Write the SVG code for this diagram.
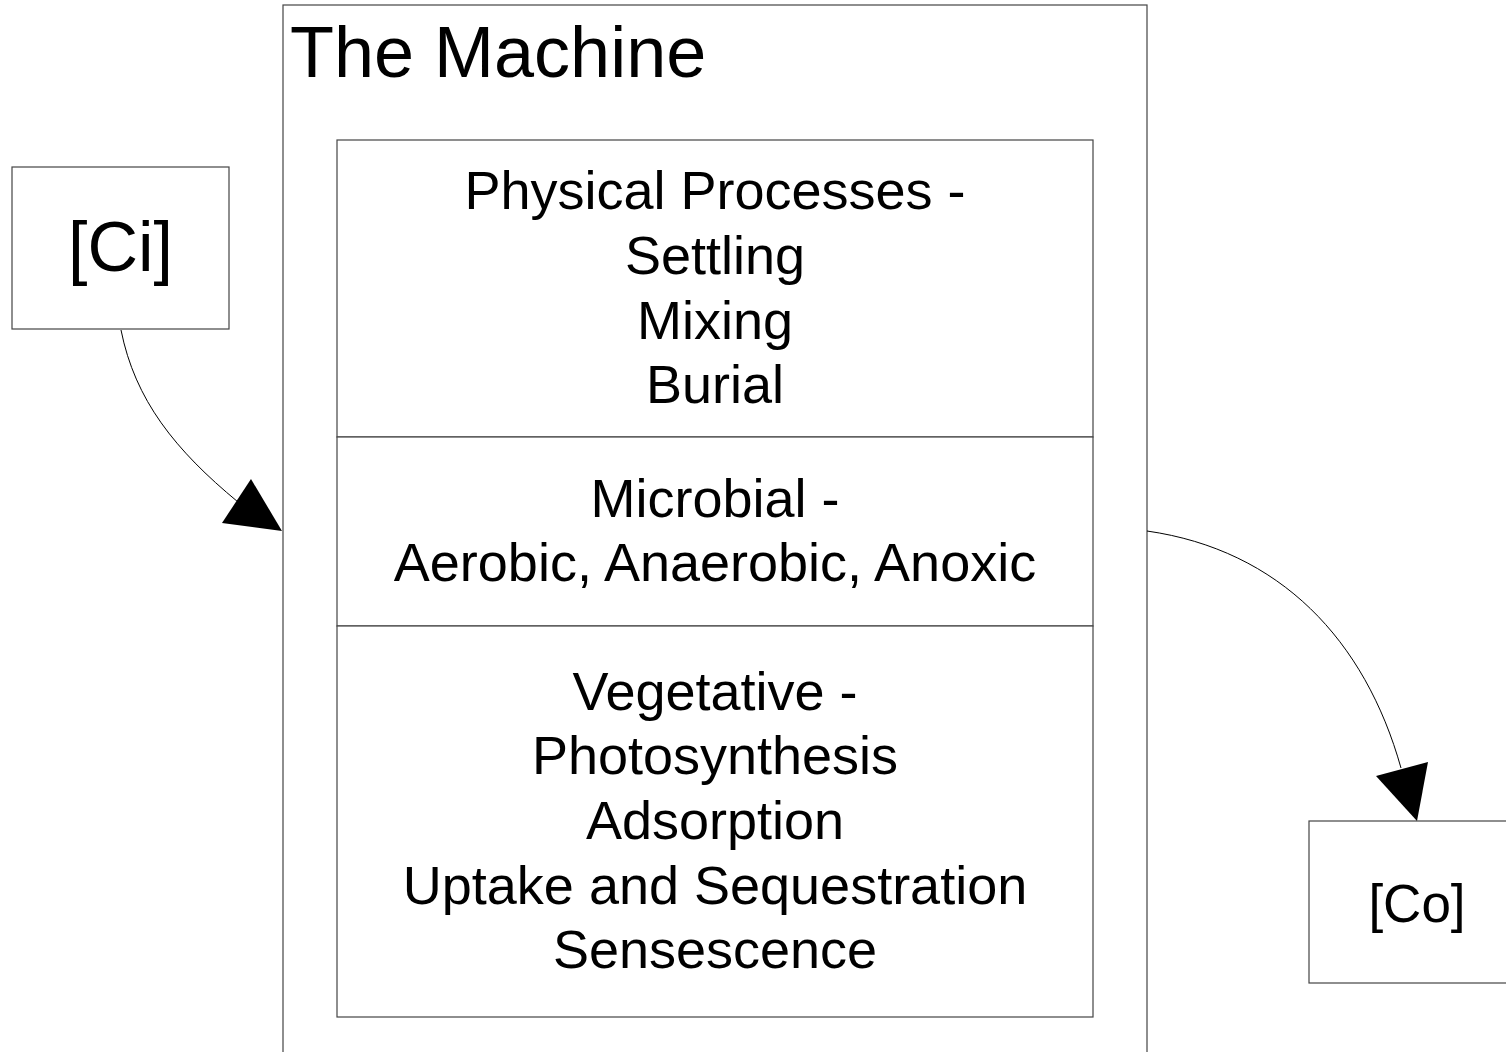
<svg xmlns="http://www.w3.org/2000/svg" width="1506" height="1052" viewBox="0 0 1506 1052">
<style>
.box{fill:#fff;stroke:#444;stroke-width:1.2}
.ln{fill:none;stroke:#000;stroke-width:1}
.ah{fill:#000;stroke:none}
text{font-family:"Liberation Sans",Arial,sans-serif;fill:#000}
.mid{text-anchor:middle;font-size:54px}
</style>
<rect width="1506" height="1052" fill="#fff"/>
<g id="machine">
<rect class="box" x="283" y="5" width="864" height="1060"/>
<text x="290" y="77" font-size="72">The Machine</text>
</g>
<g id="physical">
<rect class="box" x="337" y="140" width="756" height="297"/>
<text class="mid" x="715" y="209">Physical Processes -</text>
<text class="mid" x="715" y="274">Settling</text>
<text class="mid" x="715" y="339">Mixing</text>
<text class="mid" x="715" y="403">Burial</text>
</g>
<g id="microbial">
<rect class="box" x="337" y="437" width="756" height="189"/>
<text class="mid" x="715" y="517">Microbial -</text>
<text class="mid" x="715" y="581">Aerobic, Anaerobic, Anoxic</text>
</g>
<g id="vegetative">
<rect class="box" x="337" y="626" width="756" height="391"/>
<text class="mid" x="715" y="710">Vegetative -</text>
<text class="mid" x="715" y="774">Photosynthesis</text>
<text class="mid" x="715" y="839">Adsorption</text>
<text class="mid" x="715" y="904">Uptake and Sequestration</text>
<text class="mid" x="715" y="968">Sensescence</text>
</g>
<g id="ci">
<rect class="box" x="12" y="167" width="217" height="162"/>
<text x="120.5" y="271" font-size="70" text-anchor="middle">[Ci]</text>
</g>
<g id="co">
<rect class="box" x="1309" y="821" width="220" height="162"/>
<text x="1417" y="922" font-size="53" text-anchor="middle">[Co]</text>
</g>
<g id="connectors">
<path class="ln" d="M121,330 C135,400 175,450 238,502"/>
<polygon class="ah" points="222,523 251,479 282,531"/>
<path class="ln" d="M1147,531 C1280,550 1365,640 1401,768"/>
<polygon class="ah" points="1376,776 1428,762 1417,821"/>
</g>
</svg>
